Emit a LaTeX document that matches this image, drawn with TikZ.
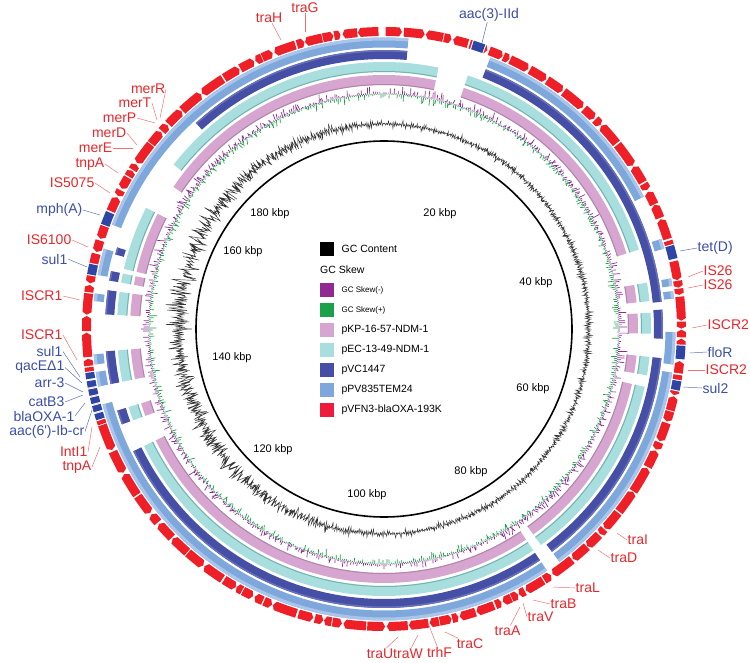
\documentclass[tikz,border=0pt]{standalone}
\usepackage{fontspec}
\setmainfont{Liberation Sans}
\usetikzlibrary{positioning}

\definecolor{genered}{HTML}{EE1F26}
\definecolor{geneblue}{HTML}{2F45A5}
\definecolor{lblred}{HTML}{E8262B}
\definecolor{lblblue}{HTML}{3B4EA8}
\definecolor{pkpcol}{HTML}{D6A6D0}
\definecolor{pkpdark}{HTML}{B184AB}
\definecolor{peccol}{HTML}{A8DEDE}
\definecolor{pecdark}{HTML}{74B3B3}
\definecolor{pvccol}{HTML}{464FA6}
\definecolor{pvclight}{HTML}{6870BC}
\definecolor{ppvcol}{HTML}{7EA7DC}
\definecolor{ppvlight}{HTML}{A9C5EA}
\definecolor{pvfcol}{HTML}{ED1C3D}
\definecolor{skewneg}{HTML}{8E2A92}
\definecolor{skewpos}{HTML}{1DA04A}

\tikzset{
  genelabel/.style={font=\fontsize{14}{16}\selectfont, inner sep=0.5pt},
  redlabel/.style={genelabel, text=lblred},
  bluelabel/.style={genelabel, text=lblblue},
  redlead/.style={draw=lblred!65, line width=0.5pt},
  bluelead/.style={draw=lblblue!80, line width=0.5pt},
  kbplabel/.style={font=\fontsize{11}{13}\selectfont},
  legbox/.style={minimum size=13.5pt, inner sep=0pt, anchor=north west},
  legtext/.style={font=\fontsize{10.5}{12}\selectfont, anchor=west, inner sep=0pt},
  legsmall/.style={font=\fontsize{8}{10}\selectfont, anchor=west, inner sep=0pt},
}

\begin{document}
\begin{tikzpicture}[x=1pt, y=-1pt]
    \useasboundingbox (0,0) rectangle (750,663);

    \begin{scope}[shift={(384,329)}]
    % --- Backbone circle ---
    \draw[line width=1.6pt] (0,0) circle (188);

    % --- GC Content (black trace) ---
    \pgfmathsetseed{4}
    \draw[black!80, line width=0.45pt] (-90:205)
        \foreach \i in {1,...,1439} {
            -- ({\i/4-90}:{205+(0.6+4.5*rnd*rnd)*(1+2*max(0,-sin(\i/4)))*(2*mod(\i,2)-1)})
        } -- cycle;

    % --- GC Skew (purple out, green in) ---
    \draw[skewneg, line width=0.7pt]
        \foreach \i in {0,...,719} {
            ({\i/2-90}:235) -- ({\i/2-90}:{235.5+10*rnd*rnd})
        };
    \draw[skewpos, line width=0.7pt]
        \foreach \i in {0,...,719} {
            ({\i/2-89.75}:235) -- ({\i/2-89.75}:{234.5-8*rnd*rnd})
        };

    % --- pKP-16-57-NDM-1 ring ---
    \foreach \a/\b in {18.3/72.7, 80/84, 86.5/91, 96/100, 102.5/144, 146/244, 250/253,
                       258.6/265.4, 273/278, 280/282, 283/297, 304/371.8} {
        \draw[pkpcol, line width=10pt] ({\a-90}:249) arc ({\a-90}:{\b-90}:249);
        \draw[pkpdark, line width=1pt] ({\a-90}:244.5) arc ({\a-90}:{\b-90}:244.5);
    }

    % --- pEC-13-49-NDM-1 ring ---
    \foreach \a/\b in {18.3/72.7, 80/84, 86.5/91, 96/100, 102.5/144, 146/244, 250/253,
                       258.6/265.4, 273/278, 280/282, 283/297, 308/371.8} {
        \draw[peccol, line width=10pt] ({\a-90}:262) arc ({\a-90}:{\b-90}:262);
        \draw[pecdark, line width=1pt] ({\a-90}:257.5) arc ({\a-90}:{\b-90}:257.5);
    }

    % --- pVC1447 ring ---
    \foreach \a/\b in {21.4/84.4, 86/92, 96/143, 146/244, 250/253, 258.6/265.4,
                       273/278, 280/282, 285.5/287, 317.6/364.8} {
        \draw[pvccol, line width=9pt] ({\a-90}:274.5) arc ({\a-90}:{\b-90}:274.5);
        \draw[pvclight, line width=1.5pt] ({\a-90}:278.2) arc ({\a-90}:{\b-90}:278.2);
    }

    % --- pPV835TEM24 ring ---
    \foreach \a/\b in {21.4/63, 72/74, 80/81.5, 82.5/84, 90.6/97, 98.6/143, 146/255,
                       258.6/261.5, 263/265, 275.5/277, 280.7/286, 291/364.8} {
        \draw[ppvcol, line width=10pt] ({\a-90}:286.5) arc ({\a-90}:{\b-90}:286.5);
        \draw[ppvlight, line width=3pt] ({\a-90}:290) arc ({\a-90}:{\b-90}:290);
    }

    % --- pVFN3-blaOXA-193K genes (red arrows) ---
    \pgfmathsetseed{21}
    \xdef\gpos{0.3}
    \foreach \k in {1,...,170} {
        \pgfmathsetmacro\glen{1.2+4*rnd^1.5}
        \pgfmathsetmacro\gend{\gpos+\glen}
        \pgfmathsetmacro\gtip{min(0.5,0.3*\glen)}
        \pgfmathtruncatemacro\gok{\gend<359.8}
        \pgfmathtruncatemacro\gdir{rnd<0.5}
        \ifnum\gok=1
            \ifnum\gdir=1
                \fill[genered] ({\gpos-90}:293) -- ({\gpos-90}:302)
                    arc ({\gpos-90}:{\gend-\gtip-90}:302) -- ({\gend-90}:297.5)
                    -- ({\gend-\gtip-90}:293) arc ({\gend-\gtip-90}:{\gpos-90}:293) -- cycle;
            \else
                \fill[genered] ({\gpos-90}:297.5) -- ({\gpos+\gtip-90}:302)
                    arc ({\gpos+\gtip-90}:{\gend-90}:302) -- ({\gend-90}:293)
                    arc ({\gend-90}:{\gpos+\gtip-90}:293) -- cycle;
            \fi
        \fi
        \pgfmathsetmacro\gnext{\gend+0.12+0.3*rnd}
        \xdef\gpos{\gnext}
    }

    % --- Resistance genes (blue) ---
    \foreach \a/\b in {17.3/19.6, 73.8/76.4, 93.2/95.8, 100/101.8, 280.5/282.5, 290.4/293,
                       252.4/253.6, 254/255.2, 255.6/256.8, 257.2/258.4, 258.8/260, 260.4/261.6} {
        \fill[white] ({\a-90-0.2}:292) arc ({\a-90-0.2}:{\b-90+0.2}:292)
            -- ({\b-90+0.2}:303) arc ({\b-90+0.2}:{\a-90-0.2}:303) -- cycle;
        \fill[geneblue] ({\a-90}:293) arc ({\a-90}:{\b-90}:293)
            -- ({\b-90}:302) arc ({\b-90}:{\a-90}:302) -- cycle;
    }
    \end{scope}

    % --- Scale labels ---
    \node[kbplabel] (k20) at (440,214) {20 kbp};
    \node[kbplabel] (k40) at (536,283) {40 kbp};
    \node[kbplabel] (k60) at (533,389) {60 kbp};
    \node[kbplabel] (k80) at (471,472) {80 kbp};
    \node[kbplabel] (k100) at (367,495) {100 kbp};
    \node[kbplabel] (k120) at (273,450) {120 kbp};
    \node[kbplabel] (k140) at (232,358) {140 kbp};
    \node[kbplabel] (k160) at (243,252) {160 kbp};
    \node[kbplabel] (k180) at (270,214) {180 kbp};

    % --- Legend ---
    \node[legbox, fill=black] (legGC) at (320,242) {};
    \node[legtext, right=7.5pt of legGC] (legGCt) {GC Content};
    \node[legtext] (legSkew) at (320,270) {GC Skew};
    \node[legbox, fill=skewneg] (legNeg) at (320,283) {};
    \node[legsmall, right=7.5pt of legNeg] (legNegt) {GC Skew(-)};
    \node[legbox, fill=skewpos] (legPos) at (320,303) {};
    \node[legsmall, right=7.5pt of legPos] (legPost) {GC Skew(+)};
    \node[legbox, fill=pkpcol] (legKP) at (320,323) {};
    \node[legtext, right=7.5pt of legKP] (legKPt) {pKP-16-57-NDM-1};
    \node[legbox, fill=peccol] (legEC) at (320,343) {};
    \node[legtext, right=7.5pt of legEC] (legECt) {pEC-13-49-NDM-1};
    \node[legbox, fill=pvccol] (legVC) at (320,363) {};
    \node[legtext, right=7.5pt of legVC] (legVCt) {pVC1447};
    \node[legbox, fill=ppvcol] (legPV) at (320,383) {};
    \node[legtext, right=7.5pt of legPV] (legPVt) {pPV835TEM24};
    \node[legbox, fill=pvfcol] (legVF) at (320,403) {};
    \node[legtext, right=7.5pt of legVF] (legVFt) {pVFN3-blaOXA-193K};

    % --- Gene labels, left side ---
    \foreach \nm/\txt/\lx/\ly/\gx/\gy in {merR/merR/166/89/160/118, merT/merT/152/103/157/120,
            merP/merP/137/118/155/123, merD/merD/127/133/137/145, merE/merE/113/148/133/148,
            tnpAa/tnpA/105/164/118/173, isfive/IS5075/95/183/110/193, issix/IS6100/72/240/88/247,
            iscrA/ISCR1/63/296/80/300, iscrB/ISCR1/63/335/77/360, intI/IntI1/88/452/92/427,
            tnpAb/tnpA/92/467/100/447} {
        \coordinate (g\nm) at (\gx,\gy);
        \node[redlabel, anchor=east] (\nm) at (\lx,\ly) {\txt};
        \draw[redlead] (g\nm) -- (\nm.east);
    }
    \foreach \nm/\txt/\lx/\ly/\gx/\gy in {mphA/mph(A)/83/210/100/215, sulA/sul1/68/259/87/267,
            sulB/sul1/63/351.5/80/377, qacE/qacEΔ1/65/367.5/82/383, arr/arr-3/65/383/83/392,
            catB/catB3/65/402/83/395, oxa/blaOXA-1/75/416/85/403,
            aacVI/aac(6\textquotesingle)-Ib-cr/85/431.5/92/410} {
        \coordinate (g\nm) at (\gx,\gy);
        \node[bluelabel, anchor=east] (\nm) at (\lx,\ly) {\txt};
        \draw[bluelead] (g\nm) -- (\nm.east);
    }

    % --- Gene labels, right side ---
    \foreach \nm/\txt/\lx/\ly/\gx/\gy in {isA/IS26/703/271/688/277, isB/IS26/703/285/688/288,
            iscrC/ISCR2/707/325/692/328, iscrD/ISCR2/705/370/688/370,
            traI/traI/627/540/617/533, traD/traD/610/558/598/550, traL/traL/575/588/553/587,
            traB/traB/550/604/533/600, traV/traV/527/617/523/603} {
        \coordinate (g\nm) at (\gx,\gy);
        \node[redlabel, anchor=west] (\nm) at (\lx,\ly) {\txt};
        \draw[redlead] (g\nm) -- (\nm.west);
    }
    \foreach \nm/\txt/\lx/\ly/\gx/\gy in {tetD/tet(D)/697/248/680/251, floR/floR/707/352/690/353,
            sulC/sul2/702/388/683/387} {
        \coordinate (g\nm) at (\gx,\gy);
        \node[bluelabel, anchor=west] (\nm) at (\lx,\ly) {\txt};
        \draw[bluelead] (g\nm) -- (\nm.west);
    }

    % --- Gene labels, top and bottom ---
    \foreach \nm/\txt/\lx/\ly/\gx/\gy in {traH/traH/269/17.5/281/40, traG/traG/305/7.5/305/32,
            traA/traA/507.5/631/520/607, traC/traC/470/644/445/632, traU/traU/380/654/398/637,
            traW/traW/408/654/418/635, trhF/trhF/439.5/652.5/428/623} {
        \coordinate (g\nm) at (\gx,\gy);
        \node[redlabel] (\nm) at (\lx,\ly) {\txt};
        \draw[redlead] (g\nm) -- (\nm);
    }
    \coordinate (gaacIII) at (482,43);
    \node[bluelabel] (aacIII) at (489,15) {aac(3)-IId};
    \draw[bluelead] (gaacIII) -- (aacIII);

\end{tikzpicture}
\end{document}
